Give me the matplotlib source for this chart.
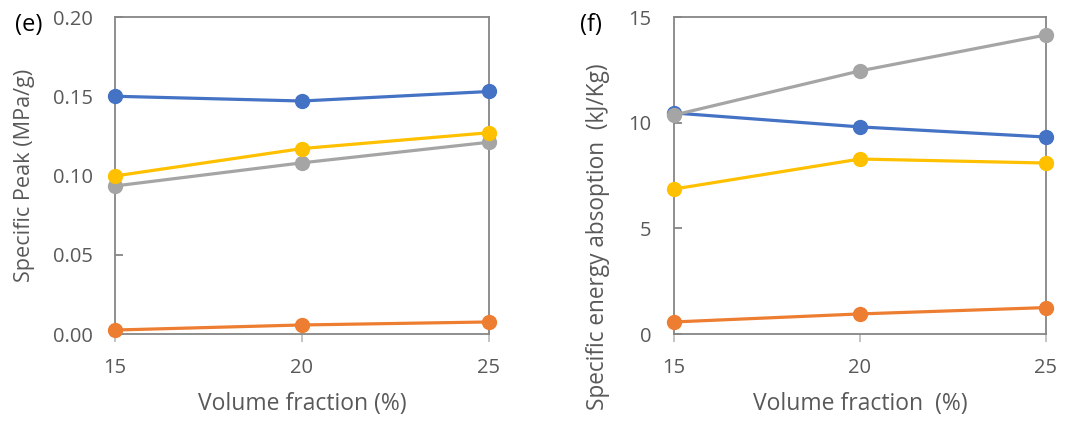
import matplotlib.pyplot as plt

# data
vol = [15, 20, 25]

peak_blue = [0.150, 0.147, 0.153]
peak_orange = [0.0025, 0.0057, 0.0076]
peak_gray = [0.0934, 0.108, 0.121]
peak_yellow = [0.0997, 0.117, 0.127]

sea_blue = [10.46, 9.80, 9.32]
sea_orange = [0.57, 0.95, 1.25]
sea_gray = [10.36, 12.45, 14.15]
sea_yellow = [6.86, 8.28, 8.09]

colors = {'blue': '#4472C4', 'orange': '#ED7D31', 'gray': '#A5A5A5', 'yellow': '#FFC000'}
text_col = '#595959'

plt.rcParams['font.family'] = ['Open Sans', 'DejaVu Sans']

fig = plt.figure(figsize=(10.83, 4.23), dpi=100)
ax1 = fig.add_axes([0.1062, 0.2104, 0.3453, 0.7494])
ax2 = fig.add_axes([0.6223, 0.2104, 0.3435, 0.7494])


def draw(ax, series, ylim, yticks, yfmt, ylabel, xlabel, ylab_size):
    for vals, c in series:
        ax.plot(vol, vals, color=colors[c], lw=2.3, marker='o', ms=10, clip_on=False, zorder=3)
    ax.set_xlim(15, 25)
    ax.set_ylim(*ylim)
    ax.set_xticks(vol)
    ax.set_yticks(yticks)
    ax.set_yticklabels([yfmt.format(v) for v in yticks])
    for s in ax.spines.values():
        s.set_color('#868686')
        s.set_linewidth(1.3)
    ax.tick_params(axis='y', direction='in', length=6, width=1.3, color='#868686',
                   labelsize=14.5, labelcolor=text_col, pad=16)
    ax.tick_params(axis='x', direction='out', length=6, width=1.3, color='#BFBFBF',
                   labelsize=14.5, labelcolor=text_col, pad=11)
    ax.set_ylabel(ylabel, fontsize=ylab_size, color=text_col)
    ax.set_xlabel(xlabel, fontsize=16.5, color=text_col, labelpad=10)


draw(ax1,
     [(peak_orange, 'orange'), (peak_gray, 'gray'), (peak_yellow, 'yellow'), (peak_blue, 'blue')],
     (0, 0.20), [0, 0.05, 0.10, 0.15, 0.20], '{:.2f}',
     'Specific Peak (MPa/g)', 'Volume fraction (%)', 15.6)
draw(ax2,
     [(sea_orange, 'orange'), (sea_yellow, 'yellow'), (sea_blue, 'blue'), (sea_gray, 'gray')],
     (0, 15), [0, 5, 10, 15], '{:.0f}',
     'Specific energy absoption  (kJ/Kg)', 'Volume fraction  (%)', 16.3)

# label positions as seen in the reference
ax1.yaxis.set_label_coords(-0.214, 0.5)
ax2.yaxis.set_label_coords(-0.172, 0.306)

fig.text(0.0139, 0.969, '(e)', fontsize=17, color='black', va='top')
fig.text(0.5355, 0.969, '(f)', fontsize=17, color='black', va='top')

fig.savefig('out.png', dpi=100)
